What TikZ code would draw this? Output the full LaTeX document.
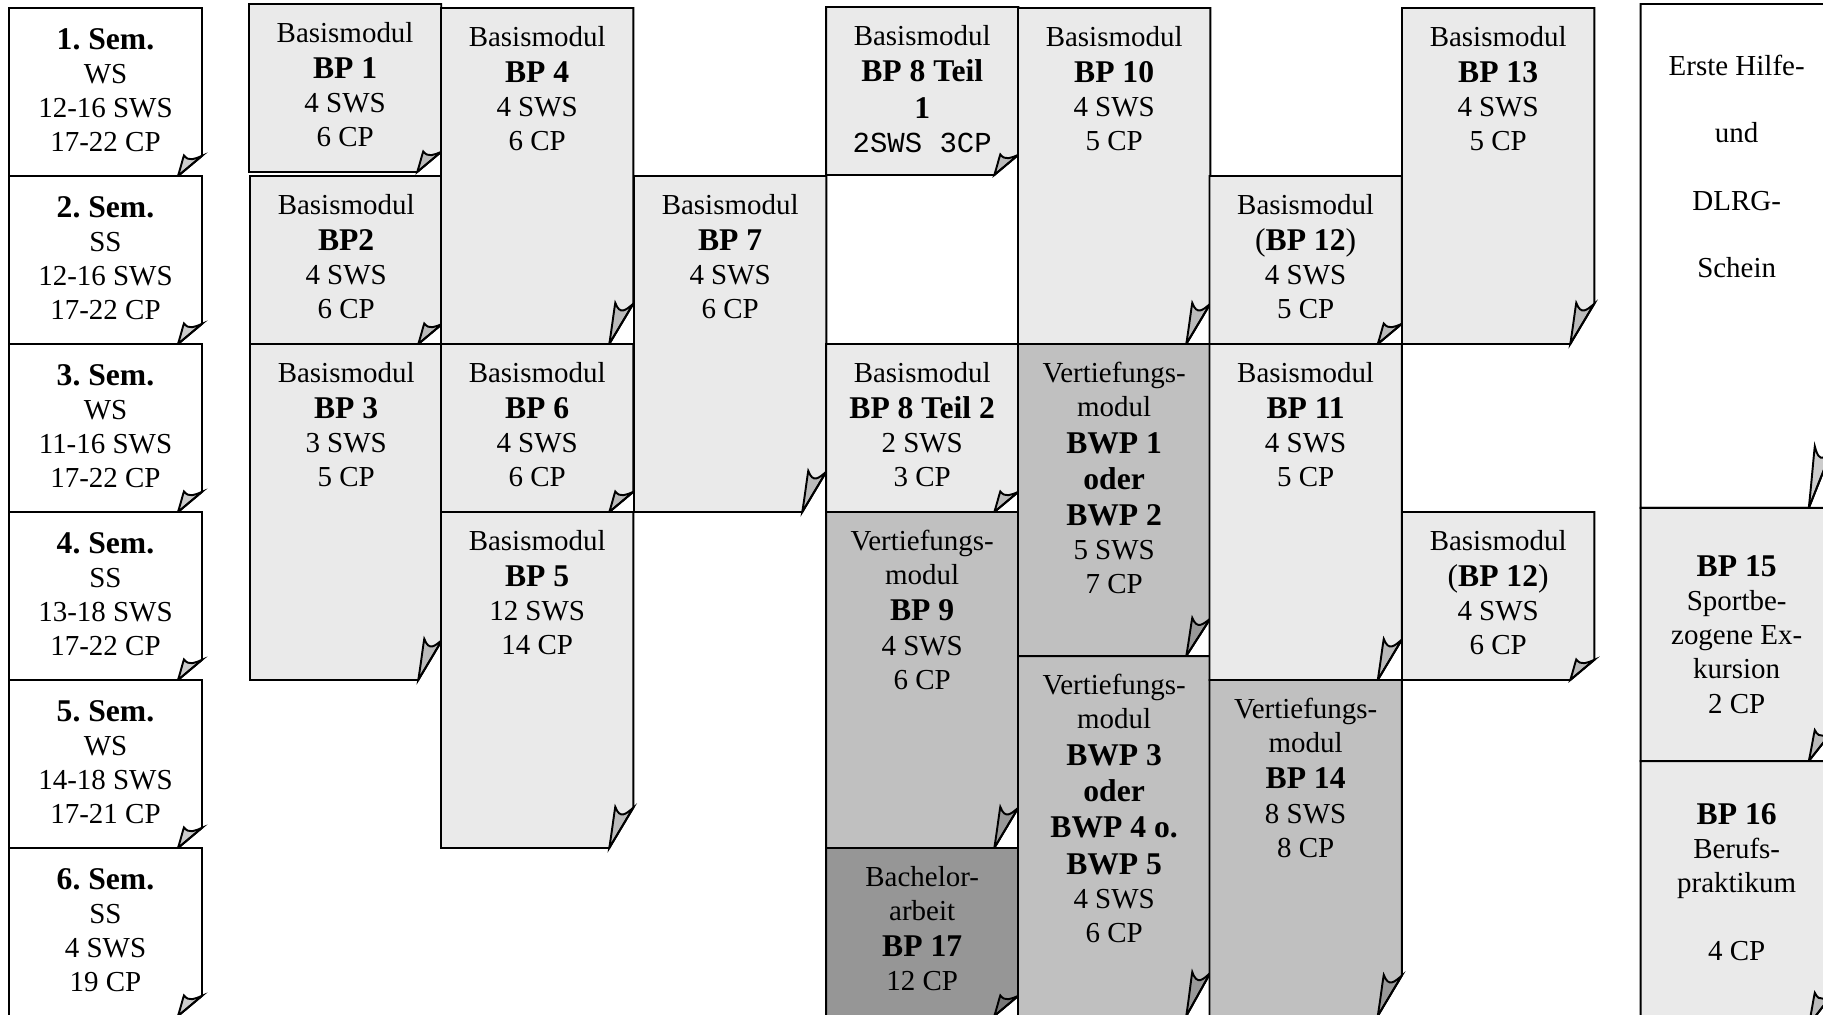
\documentclass[tikz,border=0pt]{standalone}
\usepackage{fontspec}
\setmainfont{Liberation Serif}
\setmonofont{Liberation Mono}
\usetikzlibrary{positioning}
\definecolor{basisc}{RGB}{234,234,234}
\definecolor{vertiefc}{RGB}{192,192,192}
\definecolor{thesisc}{RGB}{150,150,150}
\frenchspacing

% bold module name, a bit larger than the rest
\newcommand{\modname}[1]{{\fontsize{13.1}{14.1}\selectfont\bfseries #1}}

% note with the lower right corner turned up
\makeatletter
\def\fold@wd{0.35cm}
\def\fold@corners{%
  \southwest \edef\fold@xa{\the\pgf@x}\edef\fold@ya{\the\pgf@y}%
  \northeast \edef\fold@xb{\the\pgf@x}\edef\fold@yb{\the\pgf@y}%
  \pgfmathsetlengthmacro\fold@h{0.12*((\fold@yb)-(\fold@ya))}%
  \pgfmathsetlengthmacro\fold@xc{\fold@xb-\fold@wd}%
  \pgfmathsetlengthmacro\fold@yc{\fold@ya+\fold@h}%
}
\pgfdeclareshape{folded note}{%
  \inheritsavedanchors[from=rectangle]%
  \inheritanchorborder[from=rectangle]%
  \inheritanchor[from=rectangle]{center}%
  \inheritanchor[from=rectangle]{north}%
  \inheritanchor[from=rectangle]{south}%
  \inheritanchor[from=rectangle]{east}%
  \inheritanchor[from=rectangle]{west}%
  \inheritanchor[from=rectangle]{north east}%
  \inheritanchor[from=rectangle]{north west}%
  \inheritanchor[from=rectangle]{south east}%
  \inheritanchor[from=rectangle]{south west}%
  % text hangs from the top edge
  \anchor{text}{%
    \pgfmathsetlength\pgf@ya{\pgfkeysvalueof{/pgf/inner ysep}}%
    \edef\fold@sep{\the\pgf@ya}%
    \northeast
    \pgf@x=0pt
    \advance\pgf@y by -\fold@sep
    \advance\pgf@y by -\ht\pgfnodeparttextbox
  }%
  \backgroundpath{%
    \fold@corners
    \pgfpathmoveto{\pgfqpoint{\fold@xa}{\fold@yb}}%
    \pgfpathlineto{\pgfqpoint{\fold@xb}{\fold@yb}}%
    \pgfpathlineto{\pgfqpoint{\fold@xb}{\fold@yc}}%
    \pgfpathlineto{\pgfqpoint{\fold@xc}{\fold@ya}}%
    \pgfpathlineto{\pgfqpoint{\fold@xa}{\fold@ya}}%
    \pgfpathclose
  }%
  \beforebackgroundpath{%
    \fold@corners
    \pgfscope
    \pgfpathmoveto{\pgfqpoint{\fold@xc}{\fold@ya}}%
    \pgfpathcurveto{\pgfpoint{\fold@xc+0.12*\fold@wd}{\fold@ya+0.45*\fold@h}}%
                   {\pgfpoint{\fold@xc+0.2*\fold@wd}{\fold@yc-0.15*\fold@h}}%
                   {\pgfpoint{\fold@xc+0.25*\fold@wd}{\fold@yc+0.02*\fold@h}}%
    \pgfpathcurveto{\pgfpoint{\fold@xc+0.45*\fold@wd}{\fold@yc-0.3*\fold@h}}%
                   {\pgfpoint{\fold@xb-0.3*\fold@wd}{\fold@yc-0.15*\fold@h}}%
                   {\pgfqpoint{\fold@xb}{\fold@yc}}%
    \pgfpathclose
    \pgfsetfillcolor{black}\pgfsetfillopacity{0.2}%
    \pgfusepath{fill,stroke}%
    \endpgfscope
  }%
}
\makeatother

\begin{document}
\begin{tikzpicture}[
  note/.style={shape=folded note, draw, line width=0.8pt, outer sep=0pt, anchor=north west,
               inner xsep=2pt, inner ysep=7.5pt, text depth=0pt, minimum width=2.8cm,
               align=center, font=\fontsize{12}{14.1}\selectfont},
  semcell/.style={note, fill=white, minimum width=2.81cm, minimum height=2.446cm, inner ysep=8.5pt},
  basis/.style={note, fill=basisc},
  vertief/.style={note, fill=vertiefc},
  thesis/.style={note, fill=thesisc},
  h1/.style={minimum height=2.446cm},
  h2/.style={minimum height=4.892cm},
]
\path[use as bounding box, fill=white] (0,0) rectangle (26.543,-14.778);

% semesters
\node[semcell] (sem1) at (0.131,-0.117) {\modname{1. Sem.}\\WS\\12-16 SWS\\17-22 CP};
\node[semcell, below=0pt of sem1] (sem2) {\modname{2. Sem.}\\SS\\12-16 SWS\\17-22 CP};
\node[semcell, below=0pt of sem2] (sem3) {\modname{3. Sem.}\\WS\\11-16 SWS\\17-22 CP};
\node[semcell, below=0pt of sem3] (sem4) {\modname{4. Sem.}\\SS\\13-18 SWS\\17-22 CP};
\node[semcell, below=0pt of sem4] (sem5) {\modname{5. Sem.}\\WS\\14-18 SWS\\17-21 CP};
\node[semcell, below=0pt of sem5] (sem6) {\modname{6. Sem.}\\SS\\4 SWS\\19 CP};

% BP 1 - BP 3
\node[basis, h1] (bp1) at (3.625,-0.058) {Basismodul\\[1pt]\modname{BP 1}\\4 SWS\\6 CP};
\node[basis, h1] (bp2) at (3.640,-2.563) {Basismodul\\[1pt]\modname{BP2}\\4 SWS\\6 CP};
\node[basis, h2, below=0pt of bp2] (bp3) {Basismodul\\[1pt]\modname{BP 3}\\3 SWS\\5 CP};

% BP 4 - BP 6
\node[basis, h2] (bp4) at (6.421,-0.117) {Basismodul\\[1pt]\modname{BP 4}\\4 SWS\\6 CP};
\node[basis, h1, below=0pt of bp4] (bp6) {Basismodul\\[1pt]\modname{BP 6}\\4 SWS\\6 CP};
\node[basis, h2, below=0pt of bp6] (bp5) {Basismodul\\[1pt]\modname{BP 5}\\12 SWS\\14 CP};

% BP 7
\node[basis, h2] (bp7) at (9.231,-2.563) {Basismodul\\[1pt]\modname{BP 7}\\4 SWS\\6 CP};

% BP 8, BP 9, thesis
\node[basis, h1] (bp8a) at (12.027,-0.102)
  {Basismodul\\[1pt]\modname{BP 8 Teil}\\[1pt]\modname{1}\\{\ttfamily 2SWS 3CP}};
\node[basis, h1] (bp8b) at (12.027,-5.009) {Basismodul\\[1pt]\modname{BP 8 Teil 2}\\2 SWS\\3 CP};
\node[vertief, h2, below=0pt of bp8b] (bp9) {Vertiefungs-\\modul\\[1pt]\modname{BP 9}\\4 SWS\\6 CP};
\node[thesis, h1, below=0pt of bp9] (bp17) {Bachelor-\\arbeit\\[1pt]\modname{BP 17}\\12 CP};

% BP 10 and the BWP choices
\node[basis, h2] (bp10) at (14.822,-0.117) {Basismodul\\[1pt]\modname{BP 10}\\4 SWS\\5 CP};
\node[vertief, minimum height=4.543cm] (bwp12) at (14.822,-5.009)
  {Vertiefungs-\\modul\\[1pt]\modname{BWP 1}\\[1pt]\modname{oder}\\[1pt]\modname{BWP 2}\\5 SWS\\7 CP};
\node[vertief, minimum height=5.242cm, below=0pt of bwp12] (bwp345)
  {Vertiefungs-\\modul\\[1pt]\modname{BWP 3}\\[1pt]\modname{oder}\\[1pt]\modname{BWP 4 o.}\\[1pt]\modname{BWP 5}\\4 SWS\\6 CP};

% BP 11, BP 12, BP 14
\node[basis, h1] (bp12a) at (17.610,-2.563)
  {Basismodul\\[1pt]{\fontsize{13.1}{14.1}\selectfont(\textbf{BP 12})}\\4 SWS\\5 CP};
\node[basis, h2, below=0pt of bp12a] (bp11) {Basismodul\\[1pt]\modname{BP 11}\\4 SWS\\5 CP};
\node[vertief, h2, below=0pt of bp11] (bp14) {Vertiefungs-\\modul\\[1pt]\modname{BP 14}\\8 SWS\\8 CP};

% BP 13, BP 12 again
\node[basis, h2] (bp13) at (20.413,-0.117) {Basismodul\\[1pt]\modname{BP 13}\\4 SWS\\5 CP};
\node[basis, h1] (bp12b) at (20.413,-7.455)
  {Basismodul\\[1pt]{\fontsize{13.1}{14.1}\selectfont(\textbf{BP 12})}\\4 SWS\\6 CP};

% extra column
\node[note, fill=white, minimum height=7.338cm, inner ysep=21.2pt, font=\fontsize{12}{27.9}\selectfont]
  (hilfe) at (23.886,-0.058) {Erste Hilfe-\\und\\DLRG-\\Schein};
\node[basis, minimum height=3.494cm, inner ysep=19.9pt, below=0pt of hilfe] (bp15)
  {\modname{BP 15}\\Sportbe-\\zogene Ex-\\kursion\\2 CP};
\node[basis, minimum height=3.844cm, inner ysep=17.5pt, below=0pt of bp15] (bp16)
  {\modname{BP 16}\\Berufs-\\praktikum\\[14.1pt]4 CP};

\end{tikzpicture}
\end{document}
